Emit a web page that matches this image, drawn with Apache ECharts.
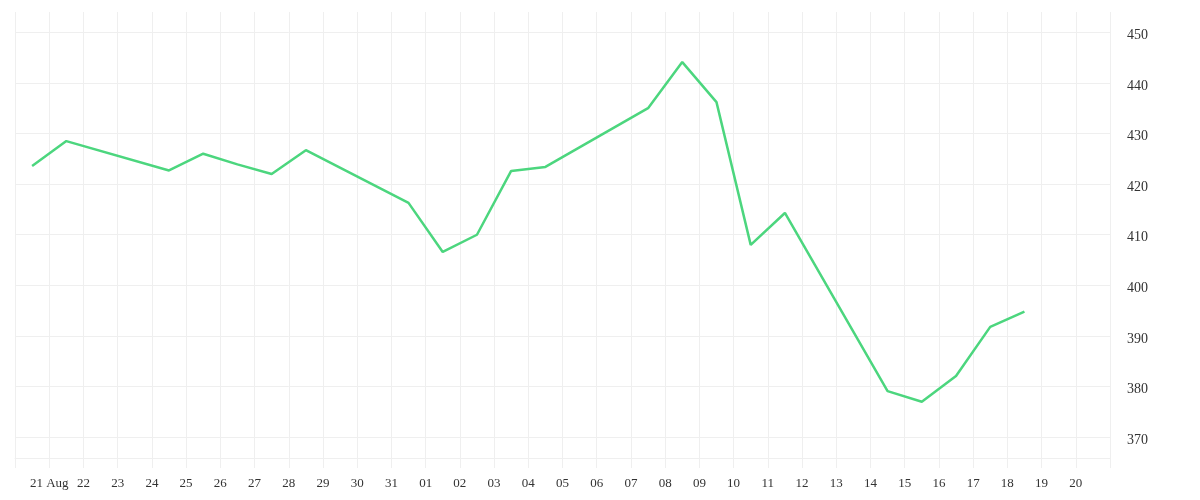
<!DOCTYPE html>
<html>
<head>
<meta charset="utf-8">
<script src="https://cdn.jsdelivr.net/npm/echarts@6/dist/echarts.min.js"></script>
<style>
html,body{margin:0;padding:0;background:#fff;}
#chart{width:1200px;height:500px;}
</style>
</head>
<body>
<div id="chart"></div>
<script>
// Trading days (noon UTC) and closing values
const dates = [
  '2020-08-20','2020-08-21','2020-08-24','2020-08-25','2020-08-26','2020-08-27','2020-08-28',
  '2020-08-31','2020-09-01','2020-09-02','2020-09-03','2020-09-04',
  '2020-09-07','2020-09-08','2020-09-09','2020-09-10','2020-09-11',
  '2020-09-14','2020-09-15','2020-09-16','2020-09-17','2020-09-18'
];
const values = [
  423.6, 428.5, 422.7, 426.0, 423.9, 422.0, 426.7,
  416.3, 406.6, 410.0, 422.6, 423.4,
  435.0, 444.1, 436.2, 408.0, 414.3,
  379.1, 377.0, 382.1, 391.8, 394.8
];
const yTicks = [370, 380, 390, 400, 410, 420, 430, 440, 450];
const xStart = '2020-08-20';
const xEnd = '2020-09-21';
const monthNames = ['Jan','Feb','Mar','Apr','May','Jun','Jul','Aug','Sep','Oct','Nov','Dec'];

const DAY = 86400000;
function ts(d) { const p = d.split('-').map(Number); return Date.UTC(p[0], p[1]-1, p[2]); }
const seriesData = dates.map((d, i) => [ts(d) + DAY / 2, values[i]]);
const xMin = ts(xStart), xMax = ts(xEnd);
const gridColor = '#efefef';
const font = 'Liberation Serif';

const chart = echarts.init(document.getElementById('chart'), null, {renderer: 'canvas'});
chart.setOption({
  animation: false,
  backgroundColor: '#fff',
  grid: {left: 15, right: 90, top: 12, bottom: 42, containLabel: false},
  xAxis: {
    type: 'value',
    min: xMin,
    max: xMax,
    interval: DAY,
    axisLine: {show: true, lineStyle: {color: gridColor, width: 1}},
    axisTick: {show: true, length: 10, lineStyle: {color: gridColor}},
    splitLine: {show: true, lineStyle: {color: gridColor, width: 1}},
    axisLabel: {
      margin: 19,
      color: '#333',
      fontFamily: font,
      fontSize: 13,
      formatter: function (v) {
        if (v <= xMin || v >= xMax) return '';
        const d = new Date(v);
        const day = d.getUTCDate();
        const s = (day < 10 ? '0' : '') + day;
        if (v === xMin + DAY) return s + ' ' + monthNames[d.getUTCMonth()];
        return s;
      }
    }
  },
  yAxis: {
    type: 'value',
    position: 'right',
    min: 365.9,
    max: 454,
    scale: true,
    axisLine: {show: false},
    axisTick: {show: false, customValues: yTicks},
    splitLine: {show: true, lineStyle: {color: gridColor, width: 1}},
    axisLabel: {
      customValues: yTicks,
      margin: 17,
      verticalAlign: 'top',
      lineHeight: 6,
      color: '#333',
      fontFamily: font,
      fontSize: 14
    }
  },
  series: [{
    type: 'line',
    data: seriesData,
    showSymbol: false,
    symbol: 'none',
    lineStyle: {color: '#4cd67e', width: 2.5},
    itemStyle: {color: '#4cd67e'}
  }]
});
</script>
</body>
</html>
